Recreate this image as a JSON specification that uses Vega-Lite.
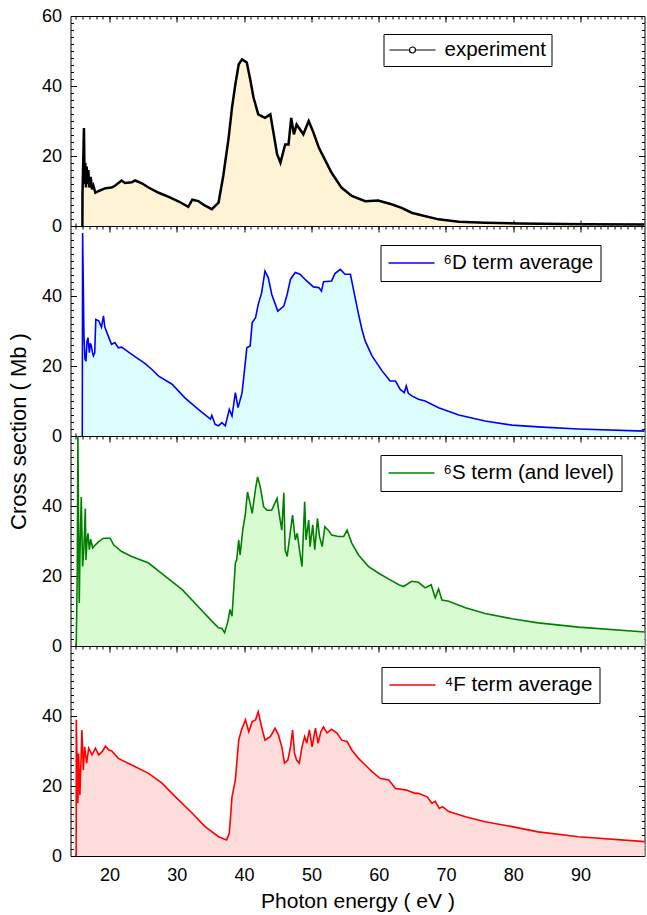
{
  "$schema": "https://vega.github.io/schema/vega-lite/v6.json",
  "autosize": {"type": "pad"},
  "padding": {"left": 6.5, "top": 6, "right": 0, "bottom": 0},
  "background": "white",
  "bounds": "flush",
  "spacing": 0,
  "config": {
    "view": {"stroke": "black", "strokeWidth": 1},
    "axis": {"grid": false, "domain": false, "ticks": true, "title": null, "labelFont": "Liberation Sans", "labelFontSize": 18, "labelColor": "black", "titleFont": "Liberation Sans", "titleFontWeight": "normal", "titleColor": "black", "tickColor": "black", "tickWidth": 1, "labelOverlap": false, "labelFlush": false, "zindex": 1},
    "legend": {"labelFont": "Liberation Sans", "labelFontSize": 20.5, "labelColor": "black", "strokeColor": "black", "fillColor": "white", "symbolStrokeWidth": 1.5, "labelLimit": 400, "cornerRadius": 0}
  },
  "data": {"values": [
    {"s":"experiment","e":15.97,"v":0},{"s":"experiment","e":15.98,"v":9},{"s":"experiment","e":16.2,"v":28},{"s":"experiment","e":16.3,"v":12},{"s":"experiment","e":16.4,"v":18},{"s":"experiment","e":16.5,"v":11},{"s":"experiment","e":16.6,"v":17},{"s":"experiment","e":16.7,"v":12},{"s":"experiment","e":16.85,"v":16},{"s":"experiment","e":17.0,"v":11},{"s":"experiment","e":17.2,"v":14},{"s":"experiment","e":17.4,"v":10.5},{"s":"experiment","e":17.6,"v":11.5},{"s":"experiment","e":17.9,"v":9.5},{"s":"experiment","e":18.4,"v":10},{"s":"experiment","e":19.4,"v":10.8},{"s":"experiment","e":20.3,"v":11},{"s":"experiment","e":20.8,"v":11.5},{"s":"experiment","e":21.8,"v":13},{"s":"experiment","e":22.3,"v":12.3},{"s":"experiment","e":23.3,"v":12.5},{"s":"experiment","e":23.8,"v":13},{"s":"experiment","e":24.8,"v":12.2},{"s":"experiment","e":25.8,"v":11},{"s":"experiment","e":27.3,"v":9.5},{"s":"experiment","e":28.8,"v":8.3},{"s":"experiment","e":30.3,"v":7},{"s":"experiment","e":31.7,"v":5.5},{"s":"experiment","e":32.3,"v":7.5},{"s":"experiment","e":33.2,"v":7.1},{"s":"experiment","e":34.2,"v":5.8},{"s":"experiment","e":35.2,"v":4.8},{"s":"experiment","e":36.2,"v":6.7},{"s":"experiment","e":36.9,"v":14.3},{"s":"experiment","e":37.7,"v":25.2},{"s":"experiment","e":38.2,"v":33.8},{"s":"experiment","e":38.7,"v":40.5},{"s":"experiment","e":39.2,"v":46.2},{"s":"experiment","e":39.7,"v":47.6},{"s":"experiment","e":40.4,"v":46.7},{"s":"experiment","e":40.9,"v":41.9},{"s":"experiment","e":41.4,"v":36.7},{"s":"experiment","e":42.1,"v":31.9},{"s":"experiment","e":43.1,"v":30.9},{"s":"experiment","e":43.9,"v":31.9},{"s":"experiment","e":44.4,"v":26.2},{"s":"experiment","e":44.9,"v":20.5},{"s":"experiment","e":45.4,"v":18.1},{"s":"experiment","e":46.1,"v":23.3},{"s":"experiment","e":46.6,"v":23.3},{"s":"experiment","e":47.0,"v":30.9},{"s":"experiment","e":47.4,"v":26.2},{"s":"experiment","e":47.8,"v":29},{"s":"experiment","e":48.8,"v":26.2},{"s":"experiment","e":49.6,"v":30},{"s":"experiment","e":50.3,"v":26.7},{"s":"experiment","e":51.1,"v":22.4},{"s":"experiment","e":52.1,"v":18.6},{"s":"experiment","e":53.0,"v":15.2},{"s":"experiment","e":54.5,"v":10.9},{"s":"experiment","e":56.0,"v":8.6},{"s":"experiment","e":58.0,"v":7.1},{"s":"experiment","e":59.9,"v":7.3},{"s":"experiment","e":61.9,"v":6.2},{"s":"experiment","e":63.4,"v":5.2},{"s":"experiment","e":64.9,"v":3.8},{"s":"experiment","e":65.9,"v":3.3},{"s":"experiment","e":68.9,"v":1.9},{"s":"experiment","e":71.9,"v":1.2},{"s":"experiment","e":75.8,"v":0.9},{"s":"experiment","e":80.8,"v":0.7},{"s":"experiment","e":90.7,"v":0.5},{"s":"experiment","e":99.6,"v":0.4},

    {"s":"⁶D term average","e":15.95,"v":0},{"s":"⁶D term average","e":16.0,"v":58},{"s":"⁶D term average","e":16.2,"v":28.6},{"s":"⁶D term average","e":16.35,"v":22},{"s":"⁶D term average","e":16.5,"v":21.4},{"s":"⁶D term average","e":16.65,"v":27},{"s":"⁶D term average","e":16.8,"v":28.1},{"s":"⁶D term average","e":17.0,"v":23.8},{"s":"⁶D term average","e":17.15,"v":26.5},{"s":"⁶D term average","e":17.3,"v":25.7},{"s":"⁶D term average","e":17.45,"v":24},{"s":"⁶D term average","e":17.6,"v":22.9},{"s":"⁶D term average","e":17.8,"v":23.8},{"s":"⁶D term average","e":17.96,"v":33.3},{"s":"⁶D term average","e":18.4,"v":32.9},{"s":"⁶D term average","e":18.8,"v":31.1},{"s":"⁶D term average","e":19.1,"v":34.3},{"s":"⁶D term average","e":19.3,"v":31.1},{"s":"⁶D term average","e":19.9,"v":28.1},{"s":"⁶D term average","e":20.3,"v":26.2},{"s":"⁶D term average","e":20.8,"v":26.7},{"s":"⁶D term average","e":21.3,"v":25.2},{"s":"⁶D term average","e":21.8,"v":25.4},{"s":"⁶D term average","e":23.3,"v":23.3},{"s":"⁶D term average","e":25.3,"v":20.7},{"s":"⁶D term average","e":26.3,"v":19},{"s":"⁶D term average","e":27.3,"v":17.1},{"s":"⁶D term average","e":29.3,"v":14.8},{"s":"⁶D term average","e":31.2,"v":10.9},{"s":"⁶D term average","e":33.2,"v":7.6},{"s":"⁶D term average","e":35.0,"v":4.8},{"s":"⁶D term average","e":35.2,"v":5.9},{"s":"⁶D term average","e":35.7,"v":3.3},{"s":"⁶D term average","e":36.2,"v":2.9},{"s":"⁶D term average","e":36.7,"v":3.8},{"s":"⁶D term average","e":37.2,"v":2.9},{"s":"⁶D term average","e":37.8,"v":7.6},{"s":"⁶D term average","e":38.2,"v":5.7},{"s":"⁶D term average","e":38.7,"v":12.4},{"s":"⁶D term average","e":39.1,"v":8.1},{"s":"⁶D term average","e":39.7,"v":12.4},{"s":"⁶D term average","e":40.2,"v":21.4},{"s":"⁶D term average","e":40.4,"v":25.2},{"s":"⁶D term average","e":40.9,"v":25.7},{"s":"⁶D term average","e":41.2,"v":32.4},{"s":"⁶D term average","e":41.7,"v":33.8},{"s":"⁶D term average","e":42.1,"v":37.6},{"s":"⁶D term average","e":42.6,"v":40.9},{"s":"⁶D term average","e":43.1,"v":47.1},{"s":"⁶D term average","e":43.6,"v":45.2},{"s":"⁶D term average","e":44.1,"v":40.5},{"s":"⁶D term average","e":45.0,"v":35.7},{"s":"⁶D term average","e":45.9,"v":37.1},{"s":"⁶D term average","e":46.4,"v":40.5},{"s":"⁶D term average","e":46.9,"v":44.8},{"s":"⁶D term average","e":47.6,"v":46.7},{"s":"⁶D term average","e":48.3,"v":46.2},{"s":"⁶D term average","e":49.3,"v":44.3},{"s":"⁶D term average","e":50.3,"v":42.6},{"s":"⁶D term average","e":51.1,"v":42.4},{"s":"⁶D term average","e":51.5,"v":41.4},{"s":"⁶D term average","e":51.8,"v":44.1},{"s":"⁶D term average","e":53.0,"v":44.3},{"s":"⁶D term average","e":53.5,"v":46.4},{"s":"⁶D term average","e":54.3,"v":47.6},{"s":"⁶D term average","e":55.0,"v":46.2},{"s":"⁶D term average","e":55.8,"v":46.2},{"s":"⁶D term average","e":56.3,"v":41.4},{"s":"⁶D term average","e":57.0,"v":34.8},{"s":"⁶D term average","e":57.5,"v":30.5},{"s":"⁶D term average","e":58.0,"v":27.1},{"s":"⁶D term average","e":59.0,"v":22.9},{"s":"⁶D term average","e":60.5,"v":18.6},{"s":"⁶D term average","e":61.7,"v":15.7},{"s":"⁶D term average","e":62.5,"v":15.7},{"s":"⁶D term average","e":63.2,"v":13.3},{"s":"⁶D term average","e":63.8,"v":12.4},{"s":"⁶D term average","e":64.1,"v":14.3},{"s":"⁶D term average","e":64.4,"v":12.2},{"s":"⁶D term average","e":65.0,"v":11.4},{"s":"⁶D term average","e":65.9,"v":10.5},{"s":"⁶D term average","e":66.9,"v":10},{"s":"⁶D term average","e":68.9,"v":8.1},{"s":"⁶D term average","e":71.9,"v":6.0},{"s":"⁶D term average","e":75.8,"v":4.3},{"s":"⁶D term average","e":79.8,"v":3.1},{"s":"⁶D term average","e":83.7,"v":2.6},{"s":"⁶D term average","e":89.7,"v":2.0},{"s":"⁶D term average","e":99.6,"v":1.4},

    {"s":"⁶S term (and level)","e":15.05,"v":0},{"s":"⁶S term (and level)","e":15.2,"v":20},{"s":"⁶S term (and level)","e":15.3,"v":60},{"s":"⁶S term (and level)","e":15.4,"v":35},{"s":"⁶S term (and level)","e":15.5,"v":12.3},{"s":"⁶S term (and level)","e":15.6,"v":25.6},{"s":"⁶S term (and level)","e":15.8,"v":42.6},{"s":"⁶S term (and level)","e":16.0,"v":22.7},{"s":"⁶S term (and level)","e":16.2,"v":28.4},{"s":"⁶S term (and level)","e":16.4,"v":39.3},{"s":"⁶S term (and level)","e":16.5,"v":24.6},{"s":"⁶S term (and level)","e":16.65,"v":30},{"s":"⁶S term (and level)","e":16.8,"v":32.2},{"s":"⁶S term (and level)","e":17.0,"v":27.5},{"s":"⁶S term (and level)","e":17.2,"v":30.5},{"s":"⁶S term (and level)","e":17.5,"v":28},{"s":"⁶S term (and level)","e":17.9,"v":28.9},{"s":"⁶S term (and level)","e":18.4,"v":29.8},{"s":"⁶S term (and level)","e":19.1,"v":30.8},{"s":"⁶S term (and level)","e":20.1,"v":30.8},{"s":"⁶S term (and level)","e":20.6,"v":28.9},{"s":"⁶S term (and level)","e":21.8,"v":27},{"s":"⁶S term (and level)","e":23.3,"v":25.6},{"s":"⁶S term (and level)","e":25.8,"v":23.7},{"s":"⁶S term (and level)","e":28.3,"v":19.9},{"s":"⁶S term (and level)","e":30.8,"v":16.1},{"s":"⁶S term (and level)","e":33.2,"v":11.2},{"s":"⁶S term (and level)","e":35.2,"v":7.1},{"s":"⁶S term (and level)","e":36.2,"v":5.2},{"s":"⁶S term (and level)","e":36.7,"v":5.0},{"s":"⁶S term (and level)","e":37.1,"v":3.8},{"s":"⁶S term (and level)","e":37.6,"v":7.1},{"s":"⁶S term (and level)","e":37.9,"v":10.4},{"s":"⁶S term (and level)","e":38.2,"v":8.5},{"s":"⁶S term (and level)","e":38.7,"v":23.7},{"s":"⁶S term (and level)","e":38.9,"v":24.6},{"s":"⁶S term (and level)","e":39.2,"v":30.3},{"s":"⁶S term (and level)","e":39.4,"v":26.0},{"s":"⁶S term (and level)","e":39.8,"v":33.1},{"s":"⁶S term (and level)","e":40.2,"v":37.9},{"s":"⁶S term (and level)","e":40.5,"v":44.0},{"s":"⁶S term (and level)","e":40.9,"v":40.7},{"s":"⁶S term (and level)","e":41.2,"v":37.9},{"s":"⁶S term (and level)","e":41.7,"v":45.0},{"s":"⁶S term (and level)","e":42.0,"v":48.3},{"s":"⁶S term (and level)","e":42.4,"v":45.5},{"s":"⁶S term (and level)","e":42.9,"v":39.8},{"s":"⁶S term (and level)","e":43.4,"v":38.8},{"s":"⁶S term (and level)","e":44.1,"v":38.8},{"s":"⁶S term (and level)","e":44.9,"v":42.2},{"s":"⁶S term (and level)","e":45.2,"v":37.9},{"s":"⁶S term (and level)","e":45.6,"v":33.1},{"s":"⁶S term (and level)","e":45.9,"v":43.8},{"s":"⁶S term (and level)","e":46.1,"v":27.5},{"s":"⁶S term (and level)","e":46.4,"v":25.6},{"s":"⁶S term (and level)","e":46.9,"v":33.1},{"s":"⁶S term (and level)","e":47.2,"v":37.4},{"s":"⁶S term (and level)","e":47.6,"v":30.3},{"s":"⁶S term (and level)","e":47.9,"v":32.2},{"s":"⁶S term (and level)","e":48.3,"v":26.5},{"s":"⁶S term (and level)","e":48.6,"v":22.7},{"s":"⁶S term (and level)","e":49.0,"v":41.2},{"s":"⁶S term (and level)","e":49.2,"v":30.3},{"s":"⁶S term (and level)","e":49.6,"v":36.0},{"s":"⁶S term (and level)","e":49.8,"v":28.4},{"s":"⁶S term (and level)","e":50.2,"v":34.6},{"s":"⁶S term (and level)","e":50.5,"v":27.5},{"s":"⁶S term (and level)","e":50.9,"v":36.5},{"s":"⁶S term (and level)","e":51.2,"v":31.3},{"s":"⁶S term (and level)","e":51.6,"v":28.4},{"s":"⁶S term (and level)","e":52.0,"v":34.1},{"s":"⁶S term (and level)","e":52.5,"v":33.1},{"s":"⁶S term (and level)","e":53.0,"v":31.7},{"s":"⁶S term (and level)","e":54.0,"v":31.3},{"s":"⁶S term (and level)","e":54.8,"v":31.3},{"s":"⁶S term (and level)","e":55.3,"v":33.1},{"s":"⁶S term (and level)","e":56.0,"v":29.4},{"s":"⁶S term (and level)","e":57.0,"v":26.0},{"s":"⁶S term (and level)","e":58.5,"v":22.7},{"s":"⁶S term (and level)","e":60.0,"v":20.8},{"s":"⁶S term (and level)","e":61.7,"v":18.9},{"s":"⁶S term (and level)","e":63.0,"v":17.5},{"s":"⁶S term (and level)","e":63.7,"v":17.0},{"s":"⁶S term (and level)","e":64.9,"v":18.5},{"s":"⁶S term (and level)","e":65.9,"v":18.2},{"s":"⁶S term (and level)","e":66.9,"v":16.6},{"s":"⁶S term (and level)","e":67.8,"v":17.5},{"s":"⁶S term (and level)","e":68.4,"v":13.8},{"s":"⁶S term (and level)","e":68.9,"v":16.3},{"s":"⁶S term (and level)","e":69.4,"v":13.1},{"s":"⁶S term (and level)","e":70.4,"v":12.8},{"s":"⁶S term (and level)","e":72.9,"v":10.9},{"s":"⁶S term (and level)","e":75.8,"v":9.3},{"s":"⁶S term (and level)","e":79.8,"v":7.8},{"s":"⁶S term (and level)","e":83.7,"v":6.6},{"s":"⁶S term (and level)","e":89.7,"v":5.4},{"s":"⁶S term (and level)","e":99.6,"v":4.0},

    {"s":"⁴F term average","e":15.04,"v":0},{"s":"⁴F term average","e":15.06,"v":38.9},{"s":"⁴F term average","e":15.3,"v":15.1},{"s":"⁴F term average","e":15.4,"v":29.3},{"s":"⁴F term average","e":15.6,"v":17.4},{"s":"⁴F term average","e":15.9,"v":36},{"s":"⁴F term average","e":16.1,"v":24.6},{"s":"⁴F term average","e":16.3,"v":31.2},{"s":"⁴F term average","e":16.6,"v":26.5},{"s":"⁴F term average","e":16.9,"v":30.8},{"s":"⁴F term average","e":17.4,"v":28.9},{"s":"⁴F term average","e":17.9,"v":30.8},{"s":"⁴F term average","e":18.4,"v":28.9},{"s":"⁴F term average","e":18.9,"v":29.8},{"s":"⁴F term average","e":19.4,"v":31.4},{"s":"⁴F term average","e":19.9,"v":30.3},{"s":"⁴F term average","e":20.3,"v":30.1},{"s":"⁴F term average","e":21.3,"v":27.9},{"s":"⁴F term average","e":23.3,"v":26},{"s":"⁴F term average","e":25.8,"v":23.6},{"s":"⁴F term average","e":27.8,"v":20.8},{"s":"⁴F term average","e":29.8,"v":16.9},{"s":"⁴F term average","e":32.3,"v":12.2},{"s":"⁴F term average","e":34.2,"v":8.4},{"s":"⁴F term average","e":36.2,"v":5.5},{"s":"⁴F term average","e":37.4,"v":4.6},{"s":"⁴F term average","e":37.8,"v":6.5},{"s":"⁴F term average","e":38.2,"v":16.9},{"s":"⁴F term average","e":38.7,"v":21.7},{"s":"⁴F term average","e":39.2,"v":33.1},{"s":"⁴F term average","e":39.6,"v":36.0},{"s":"⁴F term average","e":40.2,"v":38.9},{"s":"⁴F term average","e":40.7,"v":35.5},{"s":"⁴F term average","e":41.2,"v":38.4},{"s":"⁴F term average","e":41.7,"v":38.9},{"s":"⁴F term average","e":42.1,"v":41.2},{"s":"⁴F term average","e":42.6,"v":36.9},{"s":"⁴F term average","e":43.1,"v":33.1},{"s":"⁴F term average","e":43.9,"v":34.1},{"s":"⁴F term average","e":44.6,"v":36.5},{"s":"⁴F term average","e":45.1,"v":34.6},{"s":"⁴F term average","e":45.6,"v":31.2},{"s":"⁴F term average","e":46.0,"v":26.5},{"s":"⁴F term average","e":46.5,"v":27.4},{"s":"⁴F term average","e":46.9,"v":31.2},{"s":"⁴F term average","e":47.2,"v":36.0},{"s":"⁴F term average","e":47.5,"v":29.3},{"s":"⁴F term average","e":47.8,"v":27.4},{"s":"⁴F term average","e":48.2,"v":26.5},{"s":"⁴F term average","e":48.6,"v":31.2},{"s":"⁴F term average","e":49.0,"v":34.1},{"s":"⁴F term average","e":49.3,"v":32.2},{"s":"⁴F term average","e":49.7,"v":36.0},{"s":"⁴F term average","e":50.1,"v":31.2},{"s":"⁴F term average","e":50.6,"v":36.5},{"s":"⁴F term average","e":51.0,"v":32.2},{"s":"⁴F term average","e":51.4,"v":35.5},{"s":"⁴F term average","e":51.8,"v":36.9},{"s":"⁴F term average","e":52.3,"v":35.2},{"s":"⁴F term average","e":53.0,"v":36.2},{"s":"⁴F term average","e":53.8,"v":35.1},{"s":"⁴F term average","e":54.5,"v":33.1},{"s":"⁴F term average","e":55.3,"v":32.7},{"s":"⁴F term average","e":56.0,"v":30.3},{"s":"⁴F term average","e":57.0,"v":27.9},{"s":"⁴F term average","e":58.0,"v":26.0},{"s":"⁴F term average","e":59.0,"v":24.1},{"s":"⁴F term average","e":60.2,"v":22.2},{"s":"⁴F term average","e":61.5,"v":21.7},{"s":"⁴F term average","e":62.5,"v":19.3},{"s":"⁴F term average","e":64.0,"v":18.9},{"s":"⁴F term average","e":65.4,"v":17.9},{"s":"⁴F term average","e":65.9,"v":17.9},{"s":"⁴F term average","e":67.2,"v":16.9},{"s":"⁴F term average","e":67.9,"v":15.1},{"s":"⁴F term average","e":68.4,"v":15.6},{"s":"⁴F term average","e":69.0,"v":13.6},{"s":"⁴F term average","e":69.5,"v":14.1},{"s":"⁴F term average","e":70.4,"v":12.7},{"s":"⁴F term average","e":72.9,"v":11.2},{"s":"⁴F term average","e":75.8,"v":9.8},{"s":"⁴F term average","e":79.8,"v":8.4},{"s":"⁴F term average","e":83.7,"v":6.9},{"s":"⁴F term average","e":89.7,"v":5.5},{"s":"⁴F term average","e":99.6,"v":4.1}
  ]},
  "resolve": {"scale": {"color": "independent", "x": "independent", "y": "independent"}, "legend": {"color": "independent"}},
  "vconcat": [
    {
      "width": 574, "height": 210,
      "transform": [{"filter": "datum.s === 'experiment'"}],
      "layer": [
        {"mark": {"type": "area", "color": "#FFF3D6", "clip": true},
         "encoding": {
           "x": {"field": "e", "type": "quantitative", "scale": {"domain": [14.2, 99.5], "nice": false, "zero": false},
                 "axis": {"orient": "bottom", "labels": false, "tickSize": -6, "values": [20,30,40,50,60,70,80,90]}},
           "y": {"field": "v", "type": "quantitative", "scale": {"domain": [0, 60], "nice": false},
                 "axis": {"orient": "left", "tickSize": -6, "labelPadding": 15, "values": [0,20,40,60]}}
         }},
        {"mark": {"type": "line", "strokeWidth": 2.5, "clip": true},
         "encoding": {
           "x": {"field": "e", "type": "quantitative", "axis": {"orient": "top", "labels": false, "tickSize": -6, "values": [20,30,40,50,60,70,80,90]}},
           "y": {"field": "v", "type": "quantitative", "axis": {"orient": "right", "labels": false, "tickSize": -6, "values": [0,20,40,60]}},
           "color": {"field": "s", "type": "nominal", "scale": {"domain": ["experiment"], "range": ["#000000"]},
                     "legend": {"title": null, "orient": "none", "legendX": 313, "legendY": 18, "padding": 5, "symbolType": "M-1,0H1M1.6,0H3.6M1.6,0A0.3,0.3 0 1,1 1,0A0.3,0.3 0 1,1 1.6,0Z", "symbolSize": 400, "labelOffset": 34, "symbolStrokeWidth": 1.2, "symbolFillColor": "white", "encode": {"symbols": {"update": {"fill": {"value": "white"}, "stroke": {"value": "#333333"}}}}}}
         }},
        {"mark": {"type": "line", "opacity": 0},
         "encoding": {
           "x": {"field": "e", "type": "quantitative", "axis": {"orient": "bottom", "labels": false, "tickSize": -3, "values": [15,16,17,18,19,20,21,22,23,24,25,26,27,28,29,30,31,32,33,34,35,36,37,38,39,40,41,42,43,44,45,46,47,48,49,50,51,52,53,54,55,56,57,58,59,60,61,62,63,64,65,66,67,68,69,70,71,72,73,74,75,76,77,78,79,80,81,82,83,84,85,86,87,88,89,90,91,92,93,94,95,96,97,98,99]}},
           "y": {"field": "v", "type": "quantitative", "axis": {"orient": "left", "labels": false, "tickSize": -3, "values": [0,2,4,6,8,10,12,14,16,18,20,22,24,26,28,30,32,34,36,38,40,42,44,46,48,50,52,54,56,58,60]}}
         }},
        {"mark": {"type": "line", "opacity": 0},
         "encoding": {
           "x": {"field": "e", "type": "quantitative", "axis": {"orient": "top", "labels": false, "tickSize": -3, "values": [15,16,17,18,19,20,21,22,23,24,25,26,27,28,29,30,31,32,33,34,35,36,37,38,39,40,41,42,43,44,45,46,47,48,49,50,51,52,53,54,55,56,57,58,59,60,61,62,63,64,65,66,67,68,69,70,71,72,73,74,75,76,77,78,79,80,81,82,83,84,85,86,87,88,89,90,91,92,93,94,95,96,97,98,99]}},
           "y": {"field": "v", "type": "quantitative", "axis": {"orient": "right", "labels": false, "tickSize": -3, "values": [0,2,4,6,8,10,12,14,16,18,20,22,24,26,28,30,32,34,36,38,40,42,44,46,48,50,52,54,56,58,60]}}
         }}
      ],
      "resolve": {"axis": {"x": "independent", "y": "independent"}}
    },
    {
      "width": 574, "height": 210,
      "transform": [{"filter": "datum.s === '⁶D term average'"}],
      "layer": [
        {"mark": {"type": "area", "color": "#DCFEFF", "clip": true},
         "encoding": {
           "x": {"field": "e", "type": "quantitative", "scale": {"domain": [14.2, 99.5], "nice": false, "zero": false},
                 "axis": {"orient": "bottom", "labels": false, "tickSize": -6, "values": [20,30,40,50,60,70,80,90]}},
           "y": {"field": "v", "type": "quantitative", "scale": {"domain": [0, 60], "nice": false},
                 "axis": {"orient": "left", "tickSize": -6, "labelPadding": 15, "values": [0,20,40], "title": "Cross section  ( Mb )", "titleFontSize": 22, "titleX": -45, "titleY": 205, "titleAngle": -90, "titleAlign": "center", "titleBaseline": "alphabetic"}}
         }},
        {"mark": {"type": "line", "strokeWidth": 1.6, "clip": true},
         "encoding": {
           "x": {"field": "e", "type": "quantitative", "axis": {"orient": "top", "labels": false, "tickSize": -6, "values": [20,30,40,50,60,70,80,90]}},
           "y": {"field": "v", "type": "quantitative", "axis": {"orient": "right", "labels": false, "tickSize": -6, "values": [0,20,40,60]}},
           "color": {"field": "s", "type": "nominal", "scale": {"domain": ["⁶D term average"], "range": ["#0000FF"]},
                     "legend": {"title": null, "orient": "none", "legendX": 310, "legendY": 19, "padding": 7, "symbolType": "M-1,0H3.6", "symbolSize": 400, "labelOffset": 34}}
         }},
        {"mark": {"type": "line", "opacity": 0},
         "encoding": {
           "x": {"field": "e", "type": "quantitative", "axis": {"orient": "bottom", "labels": false, "tickSize": -3, "values": [15,16,17,18,19,20,21,22,23,24,25,26,27,28,29,30,31,32,33,34,35,36,37,38,39,40,41,42,43,44,45,46,47,48,49,50,51,52,53,54,55,56,57,58,59,60,61,62,63,64,65,66,67,68,69,70,71,72,73,74,75,76,77,78,79,80,81,82,83,84,85,86,87,88,89,90,91,92,93,94,95,96,97,98,99]}},
           "y": {"field": "v", "type": "quantitative", "axis": {"orient": "left", "labels": false, "tickSize": -3, "values": [0,2,4,6,8,10,12,14,16,18,20,22,24,26,28,30,32,34,36,38,40,42,44,46,48,50,52,54,56,58,60]}}
         }},
        {"mark": {"type": "line", "opacity": 0},
         "encoding": {
           "x": {"field": "e", "type": "quantitative", "axis": {"orient": "top", "labels": false, "tickSize": -3, "values": [15,16,17,18,19,20,21,22,23,24,25,26,27,28,29,30,31,32,33,34,35,36,37,38,39,40,41,42,43,44,45,46,47,48,49,50,51,52,53,54,55,56,57,58,59,60,61,62,63,64,65,66,67,68,69,70,71,72,73,74,75,76,77,78,79,80,81,82,83,84,85,86,87,88,89,90,91,92,93,94,95,96,97,98,99]}},
           "y": {"field": "v", "type": "quantitative", "axis": {"orient": "right", "labels": false, "tickSize": -3, "values": [0,2,4,6,8,10,12,14,16,18,20,22,24,26,28,30,32,34,36,38,40,42,44,46,48,50,52,54,56,58,60]}}
         }}
      ],
      "resolve": {"axis": {"x": "independent", "y": "independent"}}
    },
    {
      "width": 574, "height": 210,
      "transform": [{"filter": "datum.s === '⁶S term (and level)'"}],
      "layer": [
        {"mark": {"type": "area", "color": "#D9FBD2", "clip": true},
         "encoding": {
           "x": {"field": "e", "type": "quantitative", "scale": {"domain": [14.2, 99.5], "nice": false, "zero": false},
                 "axis": {"orient": "bottom", "labels": false, "tickSize": -6, "values": [20,30,40,50,60,70,80,90]}},
           "y": {"field": "v", "type": "quantitative", "scale": {"domain": [0, 60], "nice": false},
                 "axis": {"orient": "left", "tickSize": -6, "labelPadding": 15, "values": [0,20,40]}}
         }},
        {"mark": {"type": "line", "strokeWidth": 1.6, "clip": true},
         "encoding": {
           "x": {"field": "e", "type": "quantitative", "axis": {"orient": "top", "labels": false, "tickSize": -6, "values": [20,30,40,50,60,70,80,90]}},
           "y": {"field": "v", "type": "quantitative", "axis": {"orient": "right", "labels": false, "tickSize": -6, "values": [0,20,40,60]}},
           "color": {"field": "s", "type": "nominal", "scale": {"domain": ["⁶S term (and level)"], "range": ["#008000"]},
                     "legend": {"title": null, "orient": "none", "legendX": 310, "legendY": 19, "padding": 7, "symbolType": "M-1,0H3.6", "symbolSize": 400, "labelOffset": 34}}
         }},
        {"mark": {"type": "line", "opacity": 0},
         "encoding": {
           "x": {"field": "e", "type": "quantitative", "axis": {"orient": "bottom", "labels": false, "tickSize": -3, "values": [15,16,17,18,19,20,21,22,23,24,25,26,27,28,29,30,31,32,33,34,35,36,37,38,39,40,41,42,43,44,45,46,47,48,49,50,51,52,53,54,55,56,57,58,59,60,61,62,63,64,65,66,67,68,69,70,71,72,73,74,75,76,77,78,79,80,81,82,83,84,85,86,87,88,89,90,91,92,93,94,95,96,97,98,99]}},
           "y": {"field": "v", "type": "quantitative", "axis": {"orient": "left", "labels": false, "tickSize": -3, "values": [0,2,4,6,8,10,12,14,16,18,20,22,24,26,28,30,32,34,36,38,40,42,44,46,48,50,52,54,56,58,60]}}
         }},
        {"mark": {"type": "line", "opacity": 0},
         "encoding": {
           "x": {"field": "e", "type": "quantitative", "axis": {"orient": "top", "labels": false, "tickSize": -3, "values": [15,16,17,18,19,20,21,22,23,24,25,26,27,28,29,30,31,32,33,34,35,36,37,38,39,40,41,42,43,44,45,46,47,48,49,50,51,52,53,54,55,56,57,58,59,60,61,62,63,64,65,66,67,68,69,70,71,72,73,74,75,76,77,78,79,80,81,82,83,84,85,86,87,88,89,90,91,92,93,94,95,96,97,98,99]}},
           "y": {"field": "v", "type": "quantitative", "axis": {"orient": "right", "labels": false, "tickSize": -3, "values": [0,2,4,6,8,10,12,14,16,18,20,22,24,26,28,30,32,34,36,38,40,42,44,46,48,50,52,54,56,58,60]}}
         }}
      ],
      "resolve": {"axis": {"x": "independent", "y": "independent"}}
    },
    {
      "width": 574, "height": 210,
      "transform": [{"filter": "datum.s === '⁴F term average'"}],
      "layer": [
        {"mark": {"type": "area", "color": "#FDDCDC", "clip": true},
         "encoding": {
           "x": {"field": "e", "type": "quantitative", "scale": {"domain": [14.2, 99.5], "nice": false, "zero": false},
                 "axis": {"orient": "bottom", "tickSize": -6, "labelPadding": 16, "values": [20,30,40,50,60,70,80,90], "title": "Photon energy  ( eV )", "titleFontSize": 21, "titleY": 51, "titleBaseline": "alphabetic"}},
           "y": {"field": "v", "type": "quantitative", "scale": {"domain": [0, 60], "nice": false},
                 "axis": {"orient": "left", "tickSize": -6, "labelPadding": 15, "values": [0,20,40]}}
         }},
        {"mark": {"type": "line", "strokeWidth": 1.6, "clip": true},
         "encoding": {
           "x": {"field": "e", "type": "quantitative", "axis": {"orient": "top", "labels": false, "tickSize": -6, "values": [20,30,40,50,60,70,80,90]}},
           "y": {"field": "v", "type": "quantitative", "axis": {"orient": "right", "labels": false, "tickSize": -6, "values": [0,20,40,60]}},
           "color": {"field": "s", "type": "nominal", "scale": {"domain": ["⁴F term average"], "range": ["#FF0000"]},
                     "legend": {"title": null, "orient": "none", "legendX": 311, "legendY": 21, "padding": 7, "symbolType": "M-1,0H3.6", "symbolSize": 400, "labelOffset": 34}}
         }},
        {"mark": {"type": "line", "opacity": 0},
         "encoding": {
           "x": {"field": "e", "type": "quantitative", "axis": {"orient": "bottom", "labels": false, "tickSize": -3, "values": [15,16,17,18,19,20,21,22,23,24,25,26,27,28,29,30,31,32,33,34,35,36,37,38,39,40,41,42,43,44,45,46,47,48,49,50,51,52,53,54,55,56,57,58,59,60,61,62,63,64,65,66,67,68,69,70,71,72,73,74,75,76,77,78,79,80,81,82,83,84,85,86,87,88,89,90,91,92,93,94,95,96,97,98,99]}},
           "y": {"field": "v", "type": "quantitative", "axis": {"orient": "left", "labels": false, "tickSize": -3, "values": [0,2,4,6,8,10,12,14,16,18,20,22,24,26,28,30,32,34,36,38,40,42,44,46,48,50,52,54,56,58,60]}}
         }},
        {"mark": {"type": "line", "opacity": 0},
         "encoding": {
           "x": {"field": "e", "type": "quantitative", "axis": {"orient": "top", "labels": false, "tickSize": -3, "values": [15,16,17,18,19,20,21,22,23,24,25,26,27,28,29,30,31,32,33,34,35,36,37,38,39,40,41,42,43,44,45,46,47,48,49,50,51,52,53,54,55,56,57,58,59,60,61,62,63,64,65,66,67,68,69,70,71,72,73,74,75,76,77,78,79,80,81,82,83,84,85,86,87,88,89,90,91,92,93,94,95,96,97,98,99]}},
           "y": {"field": "v", "type": "quantitative", "axis": {"orient": "right", "labels": false, "tickSize": -3, "values": [0,2,4,6,8,10,12,14,16,18,20,22,24,26,28,30,32,34,36,38,40,42,44,46,48,50,52,54,56,58,60]}}
         }}
      ],
      "resolve": {"axis": {"x": "independent", "y": "independent"}}
    }
  ]
}
